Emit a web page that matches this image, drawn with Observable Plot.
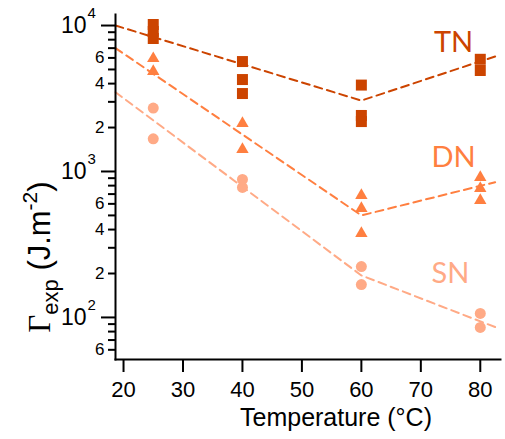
<!DOCTYPE html>
<html>
<head>
<meta charset="utf-8">
<script src="https://cdn.jsdelivr.net/npm/d3@7"></script>
<script src="https://cdn.jsdelivr.net/npm/@observablehq/plot@0.6"></script>
<style>
  html, body { margin: 0; padding: 0; background: #fff; }
  #chart svg { display: block; }
</style>
</head>
<body>
<div id="chart"></div>
<script>
// ---- data ----
const tnT = [25, 25, 25, 40, 40, 40, 60, 60, 60, 80, 80];
const tnV = [10160, 9100, 8150, 5665, 4265, 3420, 3908, 2420, 2198, 5870, 4920];
const dnT = [25, 25, 40, 40, 60, 60, 60, 80, 80, 80];
const dnV = [5940, 4840, 2134, 1416, 685, 558, 376, 910, 765, 633];
const snT = [25, 25, 40, 40, 60, 60, 80, 80];
const snV = [2717, 1675, 882, 777, 223, 168, 106.5, 85.4];

const fitT = [18.65, 60, 82.5];
const tnFit = [10000, 3060, 6140];
const dnFit = [7000, 500, 845];
const snFit = [3493, 194, 85.9];

const seriesNames = ["TN", "DN", "SN"];
const labelT = [75.5, 75.5, 75];
const labelV = [7590, 1237, 199];

const xTicks = [20, 30, 40, 50, 60, 70, 80];
const yMajor = [100, 1000, 10000];
const yMajorExp = ["2", "3", "4"];
const yMinor = [60, 70, 80, 90, 200, 300, 400, 500, 600, 700, 800, 900,
                2000, 3000, 4000, 5000, 6000, 7000, 8000, 9000];
const yMinorLabeled = [60, 200, 400, 600, 2000, 4000, 6000];
const yMinorText = ["6", "2", "4", "6", "2", "4", "6"];

const colors = {TN: "#cc4400", DN: "#ff7f40", SN: "#ffaa86"};

const pts = (T, V) => T.map((t, i) => ({t, v: V[i]}));
const labels = seriesNames.map((s, i) => ({s, t: labelT[i], v: labelV[i]}));

const chart = Plot.plot({
  width: 505,
  height: 439,
  marginLeft: 115,
  marginRight: 5,
  marginTop: 14,
  marginBottom: 80,
  style: {fontFamily: "Liberation Sans, Arial, sans-serif", color: "#000", background: "#fff"},
  x: {domain: [18.65, 83.4]},
  y: {type: "log", domain: [51.5, 11900]},
  marks: [
    // fitted dashed lines
    Plot.line(pts(fitT, tnFit), {x: "t", y: "v", stroke: colors.TN, strokeWidth: 2, strokeDasharray: "8,5"}),
    Plot.line(pts(fitT, dnFit), {x: "t", y: "v", stroke: colors.DN, strokeWidth: 2, strokeDasharray: "8,5"}),
    Plot.line(pts(fitT, snFit), {x: "t", y: "v", stroke: colors.SN, strokeWidth: 2, strokeDasharray: "8,5"}),
    // points
    Plot.dot(pts(tnT, tnV), {x: "t", y: "v", symbol: "square", r: 6.2, fill: colors.TN}),
    Plot.dot(pts(dnT, dnV), {x: "t", y: "v", symbol: "triangle", r: 4.6, fill: colors.DN}),
    Plot.dot(pts(snT, snV), {x: "t", y: "v", symbol: "circle", r: 5.5, fill: colors.SN}),
    // series labels
    Plot.text(labels, {x: "t", y: "v", text: "s", fill: d => colors[d.s], fontSize: 29,
      fontFamily: "Lato, sans-serif", textAnchor: "middle"}),
    // axes
    Plot.axisX({ticks: xTicks, tickSize: 13, tickPadding: 9, fontSize: 22, strokeWidth: 2, label: null}),
    Plot.axisY({ticks: yMinor, tickSize: 7, strokeWidth: 2, label: null, tickFormat: () => ""}),
    Plot.axisY({ticks: yMajor, tickSize: 14, strokeWidth: 2, label: null, tickFormat: () => ""}),
    Plot.text(yMinorLabeled, {y: d => d, frameAnchor: "left", dx: -11, text: (d, i) => yMinorText[i],
      textAnchor: "end", fontSize: 17}),
    Plot.text(yMajor, {y: d => d, frameAnchor: "left", dx: -29, text: () => "10", textAnchor: "end", fontSize: 23}),
    Plot.text(yMajor, {y: d => d, frameAnchor: "left", dx: -28, dy: -12, text: (d, i) => yMajorExp[i],
      textAnchor: "start", fontSize: 15}),
    Plot.frame({anchor: "left", strokeWidth: 2}),
    Plot.frame({anchor: "bottom", strokeWidth: 2}),
    Plot.text(["Temperature (°C)"], {frameAnchor: "bottom", dx: 28, dy: 66, text: d => d, fontSize: 25})
  ]
});

// y-axis title with subscript / superscript
const svg = d3.select(chart);
const t = svg.append("text")
  .attr("transform", "translate(50,257) rotate(-90)")
  .attr("text-anchor", "middle")
  .attr("font-size", 31)
  .attr("fill", "#000")
  .style("font-family", "Liberation Sans, Arial, sans-serif");
t.append("tspan").style("font-family", "Liberation Serif, serif").text("Γ");
t.append("tspan").attr("font-size", 22).attr("dy", 8).text("exp");
t.append("tspan").attr("dy", -8).text(" (J.m");
t.append("tspan").attr("font-size", 21).attr("dy", -13).text("-2");
t.append("tspan").attr("dy", 13).text(")");

document.getElementById("chart").appendChild(chart);
</script>
</body>
</html>
